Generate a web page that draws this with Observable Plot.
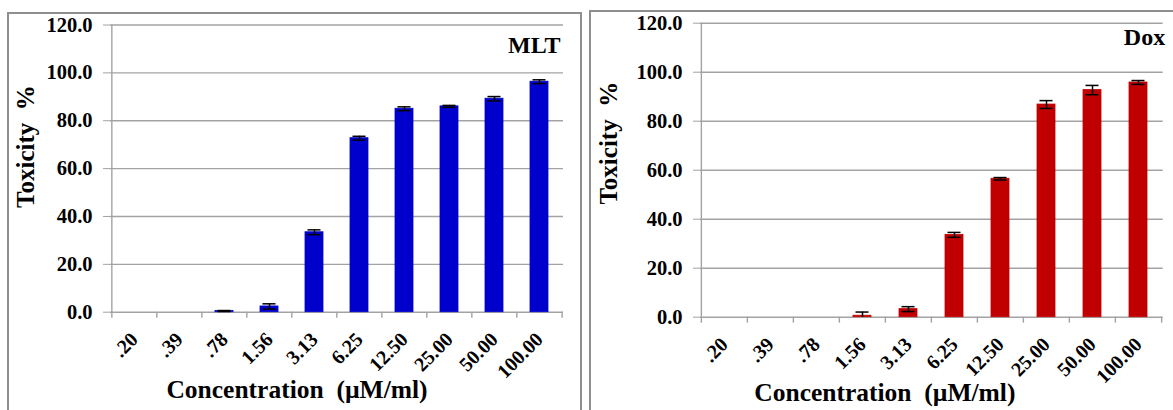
<!DOCTYPE html>
<html>
<head>
<meta charset="utf-8">
<script src="https://cdn.jsdelivr.net/npm/d3@7"></script>
<script src="https://cdn.jsdelivr.net/npm/@observablehq/plot@0.6"></script>
<style>
  html, body { margin: 0; padding: 0; background: #fff; overflow: hidden; }
  #wrap { position: relative; width: 1173px; height: 410px; overflow: hidden; }
  .panel { position: absolute; border: 2.5px solid #8f8f8f; box-sizing: border-box; background: #fff; }
  .plot { position: absolute; top: 0; }
  svg { overflow: visible; }
  svg, svg text { font-family: "Liberation Serif", "DejaVu Serif", serif !important; font-weight: bold; }
</style>
</head>
<body>
<div id="wrap">
  <div class="panel" style="left:7px; top:12px; width:575px; height:420px;"></div>
  <div class="panel" style="left:589px; top:10px; width:600px; height:420px;"></div>
  <div class="plot" id="left" style="left:0px;"></div>
  <div class="plot" id="right" style="left:585px;"></div>
</div>
<script>
const categories = [".20", ".39", ".78", "1.56", "3.13", "6.25", "12.50", "25.00", "50.00", "100.00"];
const yTicks = [0, 20, 40, 60, 80, 100, 120];

const mltValues = [0, 0, 0.5, 2.4, 33.4, 72.7, 85.0, 86.0, 89.2, 96.3];
const mltErrors = [0, 0, 0.2, 1.1, 1.0, 0.8, 0.8, 0.4, 0.9, 0.8];

const doxValues = [0, 0, 0, 0.6, 3.3, 33.6, 56.5, 86.8, 92.7, 95.8];
const doxErrors = [0, 0, 0, 1.5, 1.0, 1.0, 0.5, 1.6, 1.9, 0.8];

const xLabel = "Concentration  (µM/ml)";
const yLabel = "Toxicity  %";

function panel({values, errors, name, color, width, height, margin, nameDx, nameDy, xlab, ylab}) {
  const data = categories.map((c, i) => ({c, v: values[i], e: errors[i]}));
  const withErr = data.filter(d => d.v > 0);
  const plotW = width - margin.left - margin.right;
  const step = plotW / categories.length;
  const gray = "#a3a3a3";
  return Plot.plot({
    width, height,
    marginLeft: margin.left, marginRight: margin.right,
    marginTop: margin.top, marginBottom: margin.bottom,
    style: {fontFamily: "Liberation Serif", fontWeight: "bold", fontSize: "20px", color: "black", background: "transparent", overflow: "visible"},
    x: {domain: categories, paddingInner: 0.6, paddingOuter: 0.3, label: null},
    y: {domain: [0, 120], label: null},
    marks: [
      Plot.gridY(yTicks, {stroke: gray, strokeOpacity: 1, strokeWidth: 1.4}),
      Plot.axisY({ticks: yTicks, tickFormat: d3.format(".1f"), tickSize: 7, tickPadding: 11, stroke: gray, fill: "black", fontSize: 20.5, fontWeight: "bold", label: null}),
      Plot.axisX({tickSize: 0, tickPadding: 24, tickRotate: -45, fill: "black", fontSize: 20, fontWeight: "bold", label: null}),
      Plot.ruleX([categories[0]], {x: d => d, y1: 120, y2: 0, dx: -step / 2, stroke: gray, strokeWidth: 1.4, insetBottom: -6}),
      Plot.ruleX(categories.slice(1), {x: d => d, y1: 0, y2: 0, dx: -step / 2, stroke: gray, strokeWidth: 1.4, insetBottom: -6}),
      Plot.ruleX([categories[categories.length - 1]], {x: d => d, y1: 0, y2: 0, dx: step / 2, stroke: gray, strokeWidth: 1.4, insetBottom: -6}),
      Plot.barY(data.filter(d => d.v > 0), {x: "c", y: "v", fill: color, stroke: color, strokeWidth: 0.8}),
      Plot.ruleX(withErr, {x: "c", y1: d => Math.max(0, d.v - d.e), y2: d => d.v + d.e, stroke: "black", strokeWidth: 1.5}),
      Plot.tickY(withErr, {x: "c", y: d => d.v + d.e, stroke: "black", strokeWidth: 1.5, insetLeft: 2.5, insetRight: 2.5}),
      Plot.tickY(withErr.filter(d => d.v - d.e > 0), {x: "c", y: d => d.v - d.e, stroke: "black", strokeWidth: 1.5, insetLeft: 2.5, insetRight: 2.5}),
      Plot.text([name], {frameAnchor: "top-right", textAnchor: "end", lineAnchor: "top", dx: nameDx, dy: nameDy, fontSize: 24, fontWeight: "bold", fill: "black"}),
      Plot.text([xLabel], {frameAnchor: "bottom", textAnchor: "middle", lineAnchor: "middle", dx: xlab.dx, dy: xlab.dy, fontSize: 25.5, fontWeight: "bold", fill: "black"}),
      Plot.text([yLabel], {frameAnchor: "left", textAnchor: "middle", lineAnchor: "middle", rotate: -90, dx: ylab.dx, dy: ylab.dy, fontSize: 25, fontWeight: "bold", fill: "black"})
    ]
  });
}

document.getElementById("left").append(panel({
  values: mltValues, errors: mltErrors, name: "MLT", color: "#0000cc",
  width: 585, height: 410,
  margin: {left: 110, right: 22, top: 24.5, bottom: 98.3},
  nameDx: -3, nameDy: 11,
  xlab: {dx: -40, dy: 78}, ylab: {dx: -85, dy: -22}
}));

document.getElementById("right").append(panel({
  values: doxValues, errors: doxErrors, name: "Dox", color: "#c00000",
  width: 588, height: 410,
  margin: {left: 115, right: 10.3, top: 22.7, bottom: 93.3},
  nameDx: 2, nameDy: 5,
  xlab: {dx: -47, dy: 76}, ylab: {dx: -92, dy: -27}
}));
</script>
</body>
</html>
